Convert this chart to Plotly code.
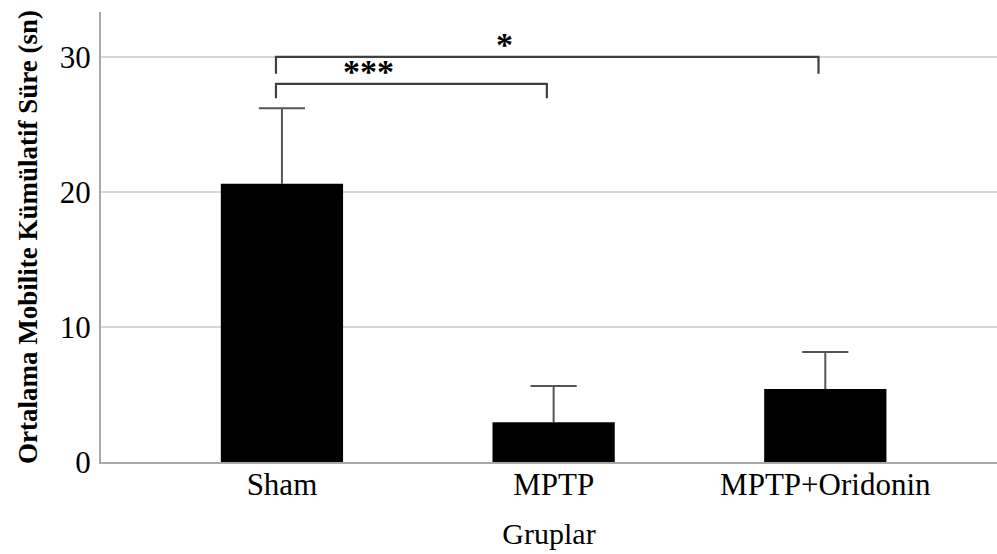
import plotly.graph_objects as go

categories = ["Sham", "MPTP", "MPTP+Oridonin"]
means = [20.6, 2.95, 5.4]
errors_up = [5.6, 2.68, 2.75]
y_ticks = [0, 10, 20, 30]

# significance brackets: (left group index, right group index, level, label)
bracket_left = [0, 0]
bracket_right = [1, 2]
bracket_level = [28.0, 30.0]
bracket_label = ["***", "*"]

FONT = "Liberation Serif"
n = len(categories)
xs = list(range(n))

fig = go.Figure()
fig.add_trace(go.Bar(
    x=xs, y=means, width=0.45,
    marker=dict(color="black", line=dict(width=0)),
    showlegend=False, hoverinfo="skip",
))

# upward-only error bars (stem + cap), drawn in data coordinates
cap_half = 0.085
ex, ey = [], []
for i in range(n):
    top = means[i] + errors_up[i]
    ex += [xs[i], xs[i], None, xs[i] - cap_half, xs[i] + cap_half, None]
    ey += [means[i], top, None, top, top, None]
fig.add_trace(go.Scatter(x=ex, y=ey, mode="lines",
                         line=dict(color="#555555", width=2),
                         showlegend=False, hoverinfo="skip"))

shapes = []
annotations = []
leg_drop = [1.05, 1.25]
label_frac = [0.34, 0.422]
label_dy = [0.95, 0.95]
for i in range(len(bracket_label)):
    x0 = bracket_left[i] - 0.022
    x1 = bracket_right[i] - 0.025
    lv = bracket_level[i]
    shapes.append(dict(type="path", xref="x", yref="y",
                       path=f"M {x0},{lv - leg_drop[i]} L {x0},{lv} L {x1},{lv} L {x1},{lv - leg_drop[i]}",
                       line=dict(color="#404040", width=2.2)))
    annotations.append(dict(x=x0 + (x1 - x0) * label_frac[i], y=lv + label_dy[i],
                            xref="x", yref="y", text="<b>" + bracket_label[i] + "</b>",
                            showarrow=False,
                            font=dict(family=FONT, size=34, color="black"),
                            yanchor="middle"))

fig.update_layout(
    width=997, height=554,
    margin=dict(l=101, r=0, t=12, b=92),
    plot_bgcolor="white", paper_bgcolor="white",
    shapes=shapes, annotations=annotations,
    xaxis=dict(
        range=[-0.666, 2.632],
        tickmode="array", tickvals=xs, ticktext=categories,
        tickfont=dict(family=FONT, size=31, color="black"),
        showgrid=False, zeroline=False,
        showline=True, linecolor="#a8a8a8", linewidth=2,
        ticks="", ticklabelstandoff=-6,
        title=dict(text="Gruplar", font=dict(family=FONT, size=30, color="black"), standoff=22),
    ),
    yaxis=dict(
        range=[0, 33.33],
        tickmode="array", tickvals=y_ticks,
        tickfont=dict(family=FONT, size=31, color="black"),
        showgrid=True, gridcolor="#d6d6d6", gridwidth=2,
        zeroline=False,
        showline=True, linecolor="#a8a8a8", linewidth=2,
        ticks="", ticklabelstandoff=2,
        title=dict(text="<b>Ortalama Mobilite Kümülatif Süre (sn)</b>",
                   font=dict(family=FONT, size=27, color="black"), standoff=14),
    ),
)

fig.write_html("out.html")
